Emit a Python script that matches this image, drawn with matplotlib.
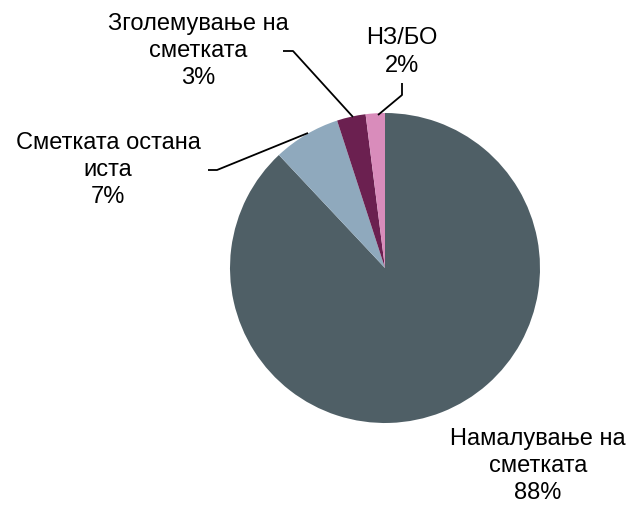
import matplotlib
matplotlib.use("Agg")
import matplotlib.pyplot as plt

categories = ["Намалување на\nсметката", "Сметката остана\nиста", "Зголемување на\nсметката", "НЗ/БО"]
values = [88, 7, 3, 2]
pct_labels = ["88%", "7%", "3%", "2%"]
colors = ["#4F5F66", "#8FA9BD", "#6B2050", "#D98CBB"]

W, H = 633, 505
fig = plt.figure(figsize=(W / 100, H / 100), dpi=100)
ax = fig.add_axes([0, 0, 1, 1])

def Y(y):
    return H - y

cx, cy, r = 385, 268, 155
ax.pie(values, colors=colors, startangle=90, counterclock=False,
       center=(cx, Y(cy)), radius=r, frame=True,
       wedgeprops=dict(linewidth=0))
ax.set_xlim(0, W)
ax.set_ylim(0, H)
ax.set_aspect("equal")
ax.axis("off")

fs = 17
label_pos = [(538, 466), (108, 170), (198, 51), (402, 52)]
for (lx, ly), cat, p in zip(label_pos, categories, pct_labels):
    ax.text(lx, Y(ly), cat + "\n" + p, ha="center", va="center",
            fontsize=fs, family=['Liberation Sans', 'DejaVu Sans'],
            linespacing=1.32, color="black")

# leader lines
lines = [
    [(208, 170), (217, 170), (308, 133)],
    [(283, 51), (293, 51), (353, 117)],
    [(402, 83), (402, 95), (378, 115)],
]
for pts in lines:
    xs = [p[0] for p in pts]
    ys = [Y(p[1]) for p in pts]
    ax.plot(xs, ys, color="black", lw=1.3, solid_capstyle="butt")

fig.savefig("out.png", dpi=100)
